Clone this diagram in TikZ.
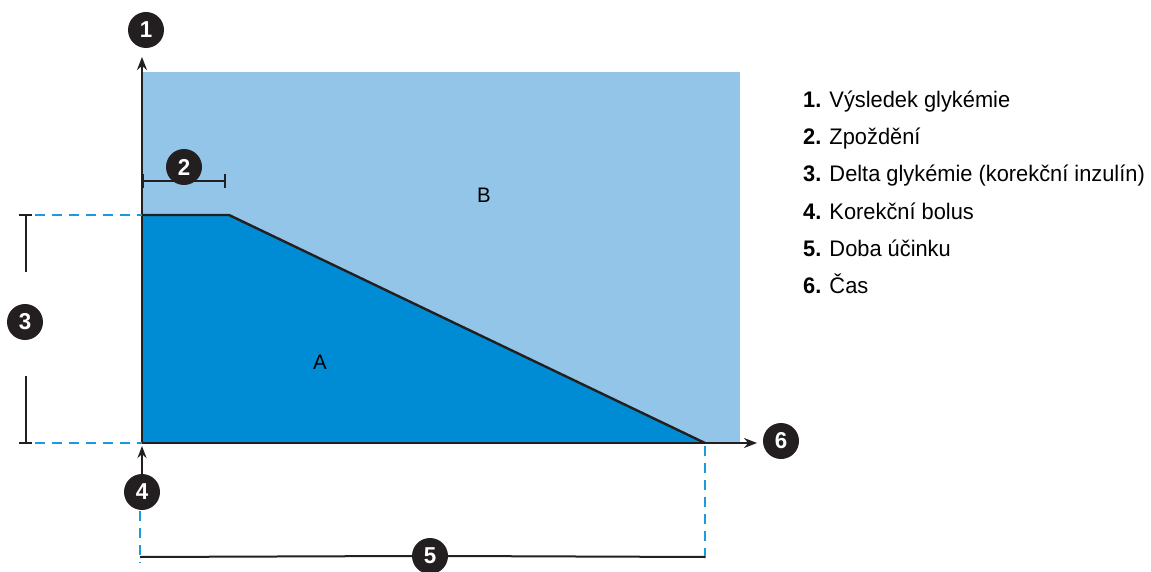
\documentclass[tikz,border=0pt]{standalone}
\usepackage{fontspec}
\setmainfont{Liberation Sans}[FakeStretch=0.97]
\usetikzlibrary{positioning,arrows.meta}
\definecolor{lightblue}{HTML}{93C5E9}
\definecolor{darkblue}{HTML}{008CD4}
\definecolor{dashblue}{HTML}{1A9BDB}
\definecolor{marker}{HTML}{231F20}
\tikzset{
  num/.style={circle,fill=marker,text=white,minimum size=36pt,inner sep=0pt,
    font=\bfseries\fontsize{23}{23}\selectfont},
  bluedash/.style={dashblue,line width=2pt,dash pattern=on 10pt off 7pt},
  axis/.style={marker,line width=2.4pt},
  legend/.style={anchor=base west,inner sep=0pt,font=\fontsize{22.5}{22.5}\selectfont}
}

\begin{document}
\begin{tikzpicture}[x=1pt,y=-1pt]
        \useasboundingbox (0,0) rectangle (1151,572);
        % areas
        \fill[lightblue] (142,72) rectangle (740,443);
        \fill[darkblue] (142,215) -- (229,215) -- (705,443) -- (142,443) -- cycle;
        \draw[axis] (142,215) -- (229,215) -- (705,443);
        % markers
        \node[num] (n1) at (146,30) {1};
        \node[num] (n2) at (184,167) {2};
        \node[num] (n3) at (25,322) {3};
        \node[num] (n4) at (142,492) {4};
        \node[num] (n5) at (430,556) {5};
        \node[num] (n6) at (781,441) {6};
        % axes
        \coordinate (origin) at (142,443);
        \coordinate (ytip) at (142,57);
        \coordinate (xtip) at (757,443);
        \draw[axis,-{Stealth[length=13pt,width=10pt]}] (origin) -- (ytip);
        \draw[axis,-{Stealth[length=13pt,width=10pt]}] (origin) -- (xtip);
        % delay
        \coordinate (d0) at (142,181);
        \coordinate (d1) at (225,181);
        \draw[marker,line width=2pt] (d0) -- (d1);
        \draw[marker,line width=2pt] (225,174) -- (225,188);
        \draw[marker,line width=2pt] (143,174) -- (143,188);
        % delta
        \coordinate (g0) at (26,215);
        \coordinate (g1) at (26,443);
        \draw[marker,line width=2pt] (19,215) -- (32,215);
        \draw[marker,line width=2pt] (19,443) -- (32,443);
        \draw[marker,line width=2pt] (g0) -- (26,272);
        \draw[marker,line width=2pt] (26,376) -- (g1);
        \draw[bluedash] (35,215) -- (142,215);
        \draw[bluedash] (35,443) -- (142,443);
        % bolus
        \draw[axis,-{Stealth[length=12pt,width=9pt]}] (n4) -- (142,446);
        % duration
        \coordinate (e0) at (140,557);
        \coordinate (e1) at (705,557);
        \draw[bluedash] (140,511) -- (140,563);
        \draw[bluedash] (705,446) -- (705,563);
        \draw[marker,line width=2pt] (e0) -- (n5.west);
        \draw[marker,line width=2pt] (n5.east) -- (e1);
        % areas labels
        \node[font=\fontsize{21}{21}\selectfont] (la) at (320,362) {A};
        \node[font=\fontsize{21}{21}\selectfont] (lb) at (484,195) {B};
        % legend
        \node[legend] (l1) at (803,108) {\textbf{1.} Výsledek glykémie};
        \node[legend] (l2) at (803,145) {\textbf{2.} Zpoždění};
        \node[legend] (l3) at (803,182) {\textbf{3.} Delta glykémie (korekční inzulín)};
        \node[legend] (l4) at (803,219) {\textbf{4.} Korekční bolus};
        \node[legend] (l5) at (803,256) {\textbf{5.} Doba účinku};
        \node[legend] (l6) at (803,293) {\textbf{6.} Čas};
    \end{tikzpicture}
\end{document}
